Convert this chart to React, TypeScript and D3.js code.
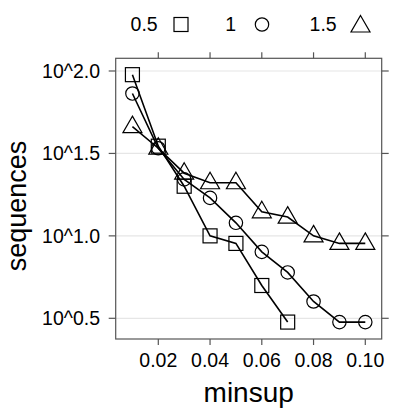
import { useEffect, useRef } from 'react'
import * as d3 from 'd3'

// minimum support values on the x axis
const minsup = [0.01, 0.02, 0.03, 0.04, 0.05, 0.06, 0.07, 0.08, 0.09, 0.1]

// number of sequences per series
const seriesNames = ['0.5', '1', '1.5']
const seqHalf = [95, 35, 20, 10, 9, 5, 3]
const seqOne = [73, 34, 22, 17, 12, 8, 6, 4, 3, 3]
const seqOneHalf = [46, 34, 24, 21, 21, 14, 13, 10, 9, 9]

const xTicks = [0.02, 0.04, 0.06, 0.08, 0.1]
const xTickLabels = ['0.02', '0.04', '0.06', '0.08', '0.10']
const yTickExps = [0.5, 1.0, 1.5, 2.0]
const yTickLabels = ['10^0.5', '10^1.0', '10^1.5', '10^2.0']

export default function App() {
  const svgRef = useRef<SVGSVGElement>(null)

  useEffect(() => {
    if (!svgRef.current) return
    const svg = d3.select(svgRef.current)
    svg.selectAll('*').remove()

    const font = '"Liberation Sans", Arial, Helvetica, sans-serif'
    const left = 115.7, right = 381.7, top = 58.3, bottom = 339
    const axisCol = '#555'
    const tickSize = '19.5px'

    const x = d3.scaleLinear().domain([0.003536, 0.10634]).range([left, right])
    const y = d3.scaleLog().domain([Math.pow(10, 0.3745), Math.pow(10, 2.077)]).range([bottom, top])

    // horizontal grid
    svg.append('g')
      .selectAll('line')
      .data(yTickExps)
      .enter().append('line')
      .attr('x1', left).attr('x2', right)
      .attr('y1', d => y(Math.pow(10, d))).attr('y2', d => y(Math.pow(10, d)))
      .attr('stroke', '#e6e6e6').attr('stroke-width', 1.2)

    // ticks on all four sides
    const tk = svg.append('g').attr('stroke', axisCol).attr('stroke-width', 1.2)
    xTicks.forEach(t => {
      tk.append('line').attr('x1', x(t)).attr('x2', x(t)).attr('y1', bottom).attr('y2', bottom + 6)
      tk.append('line').attr('x1', x(t)).attr('x2', x(t)).attr('y1', top).attr('y2', top - 6)
    })
    yTickExps.forEach(e => {
      const yy = y(Math.pow(10, e))
      tk.append('line').attr('x1', left).attr('x2', left - 7).attr('y1', yy).attr('y2', yy)
      tk.append('line').attr('x1', right).attr('x2', right + 7).attr('y1', yy).attr('y2', yy)
    })

    // panel border
    svg.append('rect')
      .attr('x', left).attr('y', top)
      .attr('width', right - left).attr('height', bottom - top)
      .attr('fill', 'none').attr('stroke', axisCol).attr('stroke-width', 1.2)

    // tick labels
    svg.append('g')
      .selectAll('text')
      .data(xTicks)
      .enter().append('text')
      .attr('x', d => x(d)).attr('y', 367)
      .attr('text-anchor', 'middle')
      .style('font-family', font).style('font-size', tickSize)
      .text((d, i) => xTickLabels[i])

    svg.append('g')
      .selectAll('text')
      .data(yTickExps)
      .enter().append('text')
      .attr('x', 100).attr('y', d => y(Math.pow(10, d)))
      .attr('dy', '0.35em')
      .attr('text-anchor', 'end')
      .style('font-family', font).style('font-size', tickSize)
      .text((d, i) => yTickLabels[i])

    // axis titles
    svg.append('text')
      .attr('x', (left + right) / 2).attr('y', 401.7)
      .attr('text-anchor', 'middle')
      .style('font-family', font).style('font-size', '28px')
      .text('minsup')

    svg.append('text')
      .attr('transform', 'translate(26,206) rotate(-90)')
      .attr('text-anchor', 'middle')
      .style('font-family', font).style('font-size', '27px')
      .text('sequences')

    const series = [seqHalf, seqOne, seqOneHalf]
    const line = d3.line<number>()
      .x((d, i) => x(minsup[i]))
      .y(d => y(d))

    const drawSymbol = (g: any, kind: number, cx: number, cy: number) => {
      if (kind === 0) {
        g.append('rect').attr('x', cx - 7).attr('y', cy - 7).attr('width', 14).attr('height', 14)
      } else if (kind === 1) {
        g.append('circle').attr('cx', cx).attr('cy', cy).attr('r', 6.7)
      } else {
        g.append('path').attr('d', `M${cx},${cy - 10.5}L${cx + 9.5},${cy + 6}L${cx - 9.5},${cy + 6}Z`)
      }
    }

    series.forEach((vals, s) => {
      svg.append('path')
        .attr('d', line(vals))
        .attr('fill', 'none').attr('stroke', '#000').attr('stroke-width', 1.6)
      const g = svg.append('g').attr('fill', 'none').attr('stroke', '#000').attr('stroke-width', 1.2)
      vals.forEach((v, i) => drawSymbol(g, s, x(minsup[i]), y(v)))
    })

    // legend
    const legText = [157.7, 236, 336.7]
    const legSym = [181, 262, 360.5]
    seriesNames.forEach((name, s) => {
      svg.append('text')
        .attr('x', legText[s]).attr('y', 30.7)
        .attr('text-anchor', 'end')
        .style('font-family', font).style('font-size', tickSize)
        .text(name)
      const g = svg.append('g').attr('fill', 'none').attr('stroke', '#000').attr('stroke-width', 1.2)
      drawSymbol(g, s, legSym[s], s === 2 ? 26 : 24.5)
    })
  }, [])

  return (
    <svg
      ref={svgRef}
      width={415}
      height={415}
      style={{ position: 'absolute', left: 0, top: 0, background: '#fff' }}
    />
  )
}
